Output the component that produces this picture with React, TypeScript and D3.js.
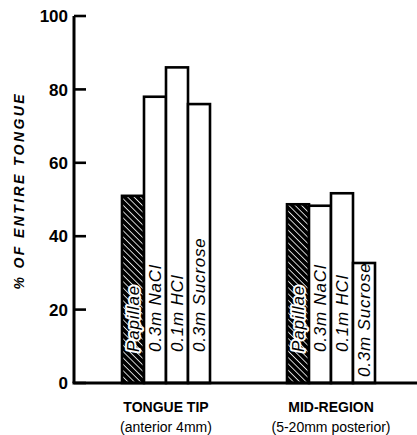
import React from "react";
import * as d3 from "d3";

const groups = ["TONGUE TIP", "MID-REGION"];
const groupSub = ["(anterior 4mm)", "(5-20mm posterior)"];
const series = ["Papillae", "0.3m NaCl", "0.1m HCl", "0.3m Sucrose"];
const tipValues = [51, 78, 86, 76];
const midValues = [48.7, 48.3, 51.7, 32.7];
const yTicks = [0, 20, 40, 60, 80, 100];

const W = 417;
const H = 435;

export default function App() {
  const y = d3.scaleLinear().domain([0, 100]).range([383, 16]);
  const gx = d3.scalePoint<string>().domain(groups).range([166, 331]);
  const inner = d3.scaleBand<string>().domain(series).range([-44, 44]).padding(0);
  const data = [tipValues, midValues];
  const axisX = 74;
  const font = "'Liberation Sans', Arial, sans-serif";

  return (
    <svg
      width={W}
      height={H}
      style={{ position: "absolute", left: 0, top: 0, background: "#fff" }}
    >
      <defs>
        <pattern id="hatch" width="4.5" height="4.5" patternUnits="userSpaceOnUse" patternTransform="rotate(-45)">
          <rect width="4.5" height="4.5" fill="#000" />
          <line x1="0" y1="0" x2="0" y2="4.5" stroke="#fff" strokeWidth="1.6" />
        </pattern>
      </defs>
      {/* bars */}
      {groups.map((g, gi) =>
        series.map((s, si) => {
          const x0 = (gx(g) as number) + (inner(s) as number);
          const bw = inner.bandwidth();
          const v = data[gi][si];
          const top = y(v);
          return (
            <rect
              key={g + s}
              x={x0}
              y={top}
              width={bw}
              height={y(0) - top}
              fill={si === 0 ? "url(#hatch)" : "#fff"}
              stroke="#000"
              strokeWidth={2.6}
            />
          );
        })
      )}
      {/* bar labels */}
      {groups.map((g, gi) =>
        series.map((s, si) => {
          const cx = (gx(g) as number) + (inner(s) as number) + inner.bandwidth() / 2;
          const by = gi === 1 && si === 3 ? 377 : 352;
          return (
            <text
              key={"l" + g + s}
              transform={`translate(${cx + 6},${by}) rotate(-90)`}
              fontFamily={font}
              fontStyle="italic"
              fontSize={17}
              fill="#000"
              stroke={si === 0 ? "#fff" : "none"}
              strokeWidth={si === 0 ? 4 : 0}
              strokeLinejoin="round"
              paintOrder="stroke"
              letterSpacing={0.8}
            >
              {s}
            </text>
          );
        })
      )}
      {/* axes */}
      <line x1={axisX} y1={y(100)} x2={axisX} y2={y(0)} stroke="#000" strokeWidth={3} />
      <line x1={axisX - 1.5} y1={y(0)} x2={417} y2={y(0)} stroke="#000" strokeWidth={3} />
      {yTicks.map((t) => (
        <g key={t}>
          <line x1={axisX} y1={y(t)} x2={axisX + 12} y2={y(t)} stroke="#000" strokeWidth={2.6} />
          <text
            x={axisX - 6}
            y={y(t)}
            dy="0.36em"
            textAnchor="end"
            fontFamily={font}
            fontWeight="bold"
            fontSize={17}
          >
            {t}
          </text>
        </g>
      ))}
      {/* y label */}
      <text
        transform={`translate(24,192) rotate(-90)`}
        textAnchor="middle"
        fontFamily={font}
        fontWeight="bold"
        fontStyle="italic"
        fontSize={14}
        textLength={195}
        lengthAdjust="spacing"
      >
        % OF ENTIRE TONGUE
      </text>
      {/* x labels */}
      {groups.map((g, gi) => (
        <g key={"x" + g}>
          <text
            x={gx(g) as number}
            y={412}
            textAnchor="middle"
            fontFamily={font}
            fontWeight="bold"
            fontSize={14}
          >
            {g}
          </text>
          <text
            x={gx(g) as number}
            y={432}
            textAnchor="middle"
            fontFamily={font}
            fontSize={14}
          >
            {groupSub[gi]}
          </text>
        </g>
      ))}
    </svg>
  );
}
